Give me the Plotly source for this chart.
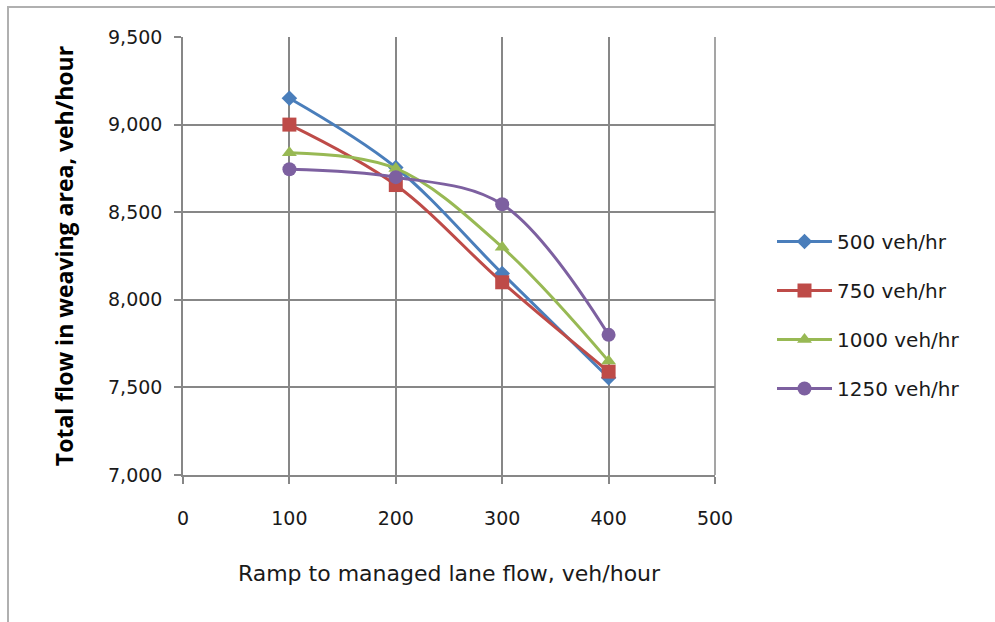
import plotly.graph_objects as go

x_vals = [100, 200, 300, 400]
s500 = [9150, 8755, 8150, 7555]
s750 = [9000, 8655, 8100, 7590]
s1000 = [8840, 8750, 8300, 7650]
s1250 = [8745, 8700, 8545, 7800]
names = ["500 veh/hr", "750 veh/hr", "1000 veh/hr", "1250 veh/hr"]
colors = ["#4A7EBB", "#BE4B48", "#98B954", "#7D60A0"]
symbols = ["diamond", "square", "triangle-up", "circle"]
sizes = [12, 14, 13, 14]
x_ticks = [0, 100, 200, 300, 400, 500]
y_ticks = [7000, 7500, 8000, 8500, 9000, 9500]

fig = go.Figure()
for i, ys in enumerate([s500, s750, s1000, s1250]):
    fig.add_trace(go.Scatter(
        x=x_vals, y=ys, name=names[i], mode="lines+markers",
        line=dict(color=colors[i], width=3, shape="spline", smoothing=1.0),
        marker=dict(symbol=symbols[i], size=sizes[i], color=colors[i]),
        legendgroup=names[i],
    ))

L, R, T, B = 183, 715, 37, 475
W, H = 995, 622
pw, ph = R - L, B - T

fig.update_layout(
    width=W, height=H,
    margin=dict(l=L, r=W - R, t=T, b=H - B),
    paper_bgcolor="white", plot_bgcolor="white",
    font=dict(family="DejaVu Sans, sans-serif", size=19, color="#1a1a1a"),
    legend=dict(x=(772 - L) / pw, y=(B - 222) / ph, xanchor="left", yanchor="top",
                font=dict(size=20), tracegroupgap=20, itemwidth=55,
                bgcolor="rgba(0,0,0,0)"),
    shapes=[dict(type="rect", xref="paper", yref="paper",
                 x0=(8 - L) / pw, x1=(1010 - L) / pw,
                 y0=-(640 - B) / ph, y1=1 + (T - 7) / ph,
                 line=dict(color="#B0B0B0", width=2), layer="below")],
)
fig.update_xaxes(
    range=[0, 500], tickvals=x_ticks, ticktext=[str(v) for v in x_ticks],
    showgrid=True, gridcolor="#878787", gridwidth=1.5,
    showline=True, linecolor="#878787", linewidth=1.5, mirror=False,
    ticks="outside", ticklen=7, tickcolor="#878787", tickwidth=1.5,
    ticklabelstandoff=18, zeroline=False,
    title=dict(text="Ramp to managed lane flow, veh/hour", font=dict(size=22), standoff=38),
)
fig.update_yaxes(
    range=[7000, 9500], tickvals=y_ticks, ticktext=[f"{v:,}" for v in y_ticks],
    showgrid=True, gridcolor="#878787", gridwidth=1.5,
    showline=True, linecolor="#878787", linewidth=1.5,
    ticks="outside", ticklen=7, tickcolor="#878787", tickwidth=1.5,
    ticklabelstandoff=8, zeroline=False,
    title=dict(text="<b>Total flow in weaving area, veh/hour</b>",
               font=dict(family="Open Sans, sans-serif", size=23, color="#000"), standoff=28),
)
fig.add_shape(type="line", xref="paper", yref="paper", x0=1, x1=1, y0=0, y1=1,
              line=dict(color="#878787", width=1.5))
fig.write_html("out.html")
